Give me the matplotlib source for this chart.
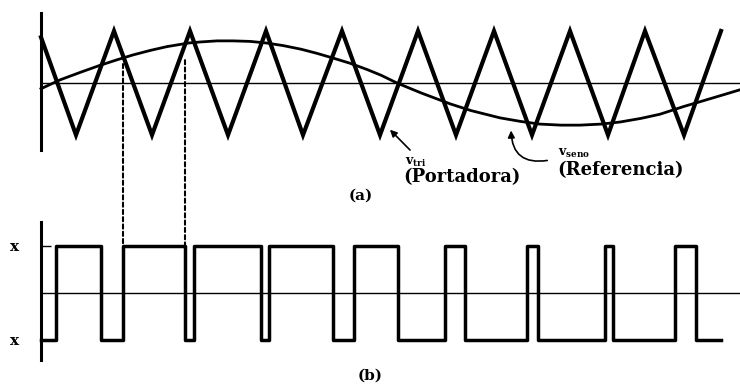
import matplotlib.pyplot as plt
from matplotlib.patches import ConnectionPatch

plt.rcParams['font.family'] = ['DejaVu Serif']
plt.rcParams['mathtext.fontset'] = 'dejavuserif'

# Portadora triangular: vértices (tiempo, valor normalizado)
tri_t = [0, 35, 73, 111, 149, 187, 225, 262, 301, 339, 377, 415, 453, 491,
         529, 567, 604, 643, 680]
tri_v = [0.88, -1, 1, -1, 1, -1, 1, -1, 1, -1, 1, -1, 1, -1, 1, -1, 1, -1, 1]

# Referencia senoidal
seno_t = [0, 19, 40, 59, 75, 92, 110, 126, 148, 160, 176, 192, 209, 225, 242,
          260, 276, 292, 309, 326, 340, 356, 380, 409, 430, 459, 480, 499,
          520, 539, 560, 579, 600, 619, 643, 659, 680, 699]
seno_v = [-0.11, 0.06, 0.21, 0.34, 0.44, 0.54, 0.63, 0.70, 0.77, 0.79, 0.81,
          0.81, 0.80, 0.77, 0.72, 0.65, 0.57, 0.48, 0.38, 0.26, 0.15, 0.0,
          -0.19, -0.40, -0.53, -0.67, -0.74, -0.79, -0.81, -0.81, -0.79,
          -0.75, -0.68, -0.60, -0.45, -0.36, -0.24, -0.13]

# Salida PWM: instantes de conmutación y niveles
pwm_t = [0, 15, 60, 82, 144, 153, 220, 228, 292, 313, 357, 404, 424, 486,
         497, 564, 572, 634, 655, 680]
pwm_v = [-1, 1, -1, 1, -1, 1, -1, 1, -1, 1, -1, 1, -1, 1, -1, 1, -1, 1, -1, -1]

# Líneas punteadas entre (a) y (b)
corte_t = [82, 144]
corte_v = [0.365, 0.44]

fig = plt.figure(figsize=(7.4, 3.86), dpi=100)
ax1 = fig.add_axes([41 / 740, 236 / 386, 699 / 740, 137 / 386])
ax2 = fig.add_axes([41 / 740, 26 / 386, 699 / 740, 138 / 386])

for ax in (ax1, ax2):
    ax.set_xlim(0, 699)
    for s in ('top', 'right', 'bottom'):
        ax.spines[s].set_visible(False)
    ax.spines['left'].set_linewidth(2.2)
    ax.set_xticks([])
    ax.axhline(0, color='black', lw=1.0)

ax1.set_ylim(-1.288, 1.346)
ax1.set_yticks([])
ax1.plot(tri_t, tri_v, color='black', lw=3.0, solid_joinstyle='miter',
         clip_on=False)
ax1.plot(seno_t, seno_v, color='black', lw=2.0, solid_joinstyle='round',
         clip_on=False)

ax2.set_ylim(-1.426, 1.51)
ax2.set_yticks([1, -1])
ax2.set_yticklabels(['x', 'x'], fontsize=11, fontweight='bold')
ax2.tick_params(axis='y', direction='in', length=7, width=1, pad=16)
ax2.plot(pwm_t, pwm_v, color='black', lw=2.5, drawstyle='steps-post',
         clip_on=False)

for t, v in zip(corte_t, corte_v):
    con = ConnectionPatch(xyA=(t, v), coordsA=ax1.transData,
                          xyB=(t, 1), coordsB=ax2.transData,
                          color='black', lw=1.5, linestyle=(0, (2, 1.5)))
    fig.add_artist(con)

ax1.annotate('', xy=(347, -0.86), xycoords='data',
             xytext=(412, 234), textcoords='figure pixels',
             arrowprops=dict(arrowstyle='-|>', color='black', lw=1.2,
                             mutation_scale=10), annotation_clip=False)
ax1.annotate('', xy=(470, -0.86), xycoords='data',
             xytext=(550, 226), textcoords='figure pixels',
             arrowprops=dict(arrowstyle='-|>', color='black', lw=1.2,
                             mutation_scale=10,
                             connectionstyle='arc3,rad=-0.6'),
             annotation_clip=False)

fig.text(405 / 740, 1 - 162 / 386, r'$\mathbf{v_{tri}}$', fontsize=9,
         va='center', ha='left')
fig.text(403 / 740, 1 - 177 / 386, '(Portadora)', fontsize=13,
         fontweight='bold', va='center', ha='left')
fig.text(558 / 740, 1 - 153 / 386, r'$\mathbf{v_{seno}}$', fontsize=9,
         va='center', ha='left')
fig.text(557 / 740, 1 - 170 / 386, '(Referencia)', fontsize=13,
         fontweight='bold', va='center', ha='left')
fig.text(361 / 740, 1 - 196 / 386, '(a)', fontsize=11, fontweight='bold',
         va='center', ha='center')
fig.text(370 / 740, 1 - 376 / 386, '(b)', fontsize=11, fontweight='bold',
         va='center', ha='center')

fig.savefig('out.png', dpi=100)
